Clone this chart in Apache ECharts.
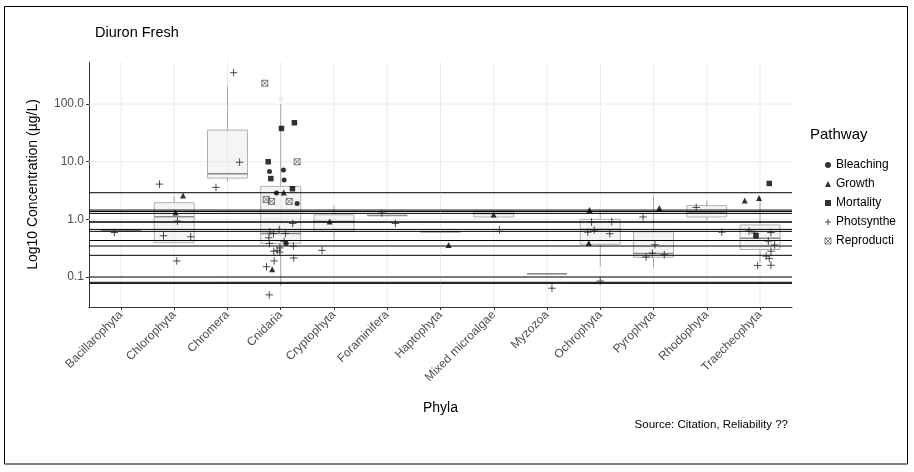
<!DOCTYPE html>
<html><head><meta charset="utf-8">
<script src="https://cdn.jsdelivr.net/npm/echarts@6/dist/echarts.min.js"></script>
<style>html,body{margin:0;padding:0;background:#fff}#c{width:914px;height:472px}</style>
</head><body><div id="c"></div>
<script>
// ---------- data ----------
const categories = ['Bacillarophyta','Chlorophyta','Chromera','Cnidaria','Cryptophyta','Foraminifera','Haptophyta','Mixed microalgae','Myzozoa','Ochrophyta','Pyrophyta','Rhodophyta','Traecheophyta'];
const pathways = ['Bleaching','Growth','Mortality','Photsynthesis','Reproduction'];
const yTickValues = [0.1, 1, 10, 100];
const yTickLabels = ['0.1', '1.0', '10.0', '100.0'];
const yRange = [0.0302, 537];

// horizontal reference lines (µg/L)
const hlineValues = [2.9, 1.45, 1.37, 1.27, 0.9, 0.9, 0.67, 0.62, 0.43, 0.43, 0.345, 0.238, 0.1, 0.081, 0.0775];

// boxplot statistics per category (µg/L)
const boxMin = [0.645, 0.395, 4.56, 0.07, 0.45, 1.17, 0.61, 1.1, 0.114, 0.155, 0.146, 0.97, 0.18];
const boxQ1  = [0.645, 0.395, 5.2, 0.384, 0.62, 1.17, 0.61, 1.1, 0.114, 0.37, 0.22, 1.1, 0.30];
const boxMed = [0.645, 1.11, 6.2, 0.57, 0.92, 1.17, 0.61, 1.27, 0.114, 0.67, 0.257, 1.34, 0.47];
const boxQ3  = [0.645, 1.95, 35.3, 3.73, 1.2, 1.17, 0.61, 1.39, 0.114, 1.0, 0.61, 1.73, 0.80];
const boxMax = [0.645, 2.53, 204, 100, 1.7, 1.17, 0.61, 1.39, 0.114, 1.45, 2.6, 2.13, 2.38];
const outlierX = [3];
const outlierY = [123];

// jittered observations: x = category position (jittered), y = concentration
const bleachingX = [2.789, 3.051, 3.064, 2.920, 3.308, 3.102];
const bleachingY = [6.8, 7.2, 4.8, 2.86, 1.89, 0.38];
const growthX = [1.166, 1.024, 3.057, 2.840, 3.918, 6.153, 6.996, 8.798, 8.785, 10.109, 11.713, 11.981];
const growthY = [2.6, 1.32, 2.94, 0.136, 0.92, 0.36, 1.22, 1.45, 0.39, 1.57, 2.13, 2.34];
const mortalityX = [3.014, 3.257, 2.765, 2.814, 3.220, 12.173, 11.924];
const mortalityY = [37.8, 47.4, 10, 5.1, 3.4, 4.2, 0.52];
const photoX = [-0.125,
  0.724, 1.061, 0.799, 1.310, 1.048,
  2.115, 2.228, 1.784,
  3.225, 2.971, 2.795, 2.864, 3.089, 2.776, 3.064, 2.789, 3.238, 2.982, 2.933, 2.870, 2.982, 3.244, 2.877, 2.733, 2.784,
  3.776, 4.899, 5.154, 7.108, 8.093,
  8.836, 9.216, 8.886, 8.766, 9.178, 8.999,
  9.803, 10.028, 9.978, 10.202, 9.860,
  10.801, 11.282,
  11.793, 11.893, 12.205, 12.155, 12.274, 12.205, 12.117, 12.173, 11.956, 12.205];
const photoY = [0.59,
  4.09, 0.935, 0.52, 0.50, 0.19,
  350, 9.8, 3.59,
  0.85, 0.67, 0.61, 0.57, 0.57, 0.48, 0.416, 0.38, 0.345, 0.32, 0.29, 0.28, 0.27, 0.214, 0.19, 0.151, 0.049,
  0.29, 1.29, 0.85, 0.66, 0.064,
  0.9, 0.91, 0.65, 0.6, 0.565, 0.085,
  1.1, 0.364, 0.26, 0.244, 0.222,
  1.61, 0.6,
  0.63, 0.58, 0.59, 0.42, 0.36, 0.28, 0.23, 0.21, 0.158, 0.16];
const reproX = [2.701, 3.308, 2.727, 2.827, 3.158];
const reproY = [230, 10, 2.22, 2.05, 2.05];

// ---------- build ----------
const L = v => Math.log10(v);
const yMin = L(yRange[0]), yMax = L(yRange[1]);
const xMin = -0.6, xMax = categories.length - 1 + 0.6;
const FONT = 'Liberation Sans, Arial, sans-serif';
const catIdx = categories.map((_, i) => i);
const pts = (xs, ys) => xs.map((x, i) => [x, L(ys[i])]);

const plusPath = 'path://M5,0V10M0,5H10';
const boxXPath = 'path://M0,0H10V10H0ZM0,0L10,10M10,0L0,10';

const symbolDefs = {
  'Bleaching':     {symbol: 'circle', size: 5, style: {color: '#000'}},
  'Growth':        {symbol: 'triangle', size: 6, style: {color: '#000'}},
  'Mortality':     {symbol: 'rect', size: 5.5, style: {color: '#000'}},
  'Photsynthesis': {symbol: plusPath, size: 7.5, style: {color: 'none', borderColor: '#222', borderWidth: 1}},
  'Reproduction':  {symbol: boxXPath, size: 6, style: {color: 'none', borderColor: '#333', borderWidth: 0.8}}
};
const seriesPts = {
  'Bleaching': pts(bleachingX, bleachingY),
  'Growth': pts(growthX, growthY),
  'Mortality': pts(mortalityX, mortalityY),
  'Photsynthesis': pts(photoX, photoY),
  'Reproduction': pts(reproX, reproY)
};

const chart = echarts.init(document.getElementById('c'), null, {renderer: 'canvas'});

const series = [
  // vertical grid lines
  {type: 'custom', z: 1, silent: true,
   data: catIdx.map(i => [i, 0]),
   encode: {x: 0, y: 1},
   renderItem: (p, api) => {
     const a = api.coord([api.value(0), yMin]), b = api.coord([api.value(0), yMax]);
     return {type: 'line', shape: {x1: a[0], y1: a[1], x2: b[0], y2: b[1]}, style: {stroke: '#ebebeb', lineWidth: 1}};
   }},
  // horizontal grid lines
  {type: 'custom', z: 1, silent: true,
   data: yTickValues.map(v => [0, L(v)]),
   encode: {x: 0, y: 1},
   renderItem: (p, api) => {
     const a = api.coord([xMin, api.value(1)]), b = api.coord([xMax, api.value(1)]);
     return {type: 'line', shape: {x1: a[0], y1: a[1], x2: b[0], y2: b[1]}, style: {stroke: '#ebebeb', lineWidth: 1}};
   }},
  // boxplots
  {type: 'custom', z: 2, silent: true,
   data: catIdx.map(i => [i, L(boxMin[i]), L(boxQ1[i]), L(boxMed[i]), L(boxQ3[i]), L(boxMax[i])]),
   encode: {x: 0, y: [1, 2, 3, 4, 5]},
   renderItem: (p, api) => {
     const x = api.value(0);
     const w = api.size([0.75, 0])[0];
     const pMin = api.coord([x, api.value(1)]);
     const pQ1 = api.coord([x, api.value(2)]);
     const pMed = api.coord([x, api.value(3)]);
     const pQ3 = api.coord([x, api.value(4)]);
     const pMax = api.coord([x, api.value(5)]);
     const cx = pMed[0];
     const wStyle = {stroke: '#a8a8a8', lineWidth: 1};
     return {type: 'group', children: [
       {type: 'line', shape: {x1: cx, y1: pQ3[1], x2: cx, y2: pMax[1]}, style: wStyle},
       {type: 'line', shape: {x1: cx, y1: pQ1[1], x2: cx, y2: pMin[1]}, style: wStyle},
       {type: 'rect', shape: {x: cx - w / 2, y: pQ3[1], width: w, height: pQ1[1] - pQ3[1]},
        style: {fill: 'rgba(225,225,225,0.35)', stroke: '#b0b0b0', lineWidth: 1}},
       {type: 'line', shape: {x1: cx - w / 2, y1: pMed[1], x2: cx + w / 2, y2: pMed[1]},
        style: {stroke: '#8a8a8a', lineWidth: 1.5}}
     ]};
   }},
  // outlier (faint)
  {type: 'scatter', z: 3, silent: true, name: 'outlier',
   data: outlierX.map((x, i) => [x, L(outlierY[i])]),
   symbol: 'circle', symbolSize: 5, itemStyle: {color: '#e8e8e8'}},
  // horizontal reference lines
  {type: 'custom', z: 4, silent: true,
   data: hlineValues.map(v => [0, L(v)]),
   encode: {x: 0, y: 1},
   renderItem: (p, api) => {
     const a = api.coord([xMin, api.value(1)]), b = api.coord([xMax, api.value(1)]);
     return {type: 'line', shape: {x1: a[0], y1: a[1], x2: b[0], y2: b[1]}, style: {stroke: '#000', lineWidth: 1}};
   }}
];
pathways.forEach(name => {
  const d = symbolDefs[name];
  series.push({type: 'scatter', name, z: 5, data: seriesPts[name],
    symbol: d.symbol, symbolSize: d.size, itemStyle: d.style});
});

chart.setOption({
  animation: false,
  backgroundColor: '#fff',
  grid: {left: 89, right: 122, top: 62, bottom: 165},
  xAxis: {
    type: 'value', min: xMin, max: xMax,
    axisLine: {show: true, onZero: false, lineStyle: {color: '#333', width: 1}},
    axisTick: {show: true, customValues: catIdx, length: 3, lineStyle: {color: '#333'}},
    axisLabel: {customValues: catIdx, formatter: v => categories[Math.round(v)], rotate: 45,
      margin: 6, fontFamily: FONT, fontSize: 12, color: '#4d4d4d'},
    splitLine: {show: false}
  },
  yAxis: {
    type: 'value', min: yMin, max: yMax,
    axisLine: {show: true, onZero: false, lineStyle: {color: '#333', width: 1}},
    axisTick: {show: true, customValues: yTickValues.map(L), length: 3, lineStyle: {color: '#333'}},
    axisLabel: {customValues: yTickValues.map(L),
      formatter: v => { const k = yTickValues.findIndex(t => Math.abs(L(t) - v) < 1e-6); return k >= 0 ? yTickLabels[k] : ''; },
      margin: 5, fontFamily: FONT, fontSize: 12, color: '#4d4d4d'},
    splitLine: {show: false}
  },
  legend: {
    orient: 'vertical', left: 817.5, top: 153, itemWidth: 6, itemHeight: 6, itemGap: 5,
    textStyle: {fontFamily: FONT, fontSize: 12, color: '#000', lineHeight: 14,
      width: 62.5, overflow: 'truncate', ellipsis: ''},
    data: pathways.map(name => ({name, icon: symbolDefs[name].symbol, itemStyle: symbolDefs[name].style}))
  },
  graphic: [
    {type: 'rect', z: 100, silent: true, shape: {x: 4.5, y: 6.5, width: 903, height: 457.5},
     style: {fill: 'none', stroke: '#000', lineWidth: 1}},
    {type: 'text', x: 95, y: 33, silent: true,
     style: {text: 'Diuron Fresh', font: '14.5px ' + FONT, fill: '#000', textVerticalAlign: 'middle'}},
    {type: 'text', x: 810, y: 135, silent: true,
     style: {text: 'Pathway', font: '15px ' + FONT, fill: '#000', textVerticalAlign: 'middle'}},
    {type: 'text', x: 440.5, y: 408, silent: true,
     style: {text: 'Phyla', font: '14px ' + FONT, fill: '#000', textAlign: 'center', textVerticalAlign: 'middle'}},
    {type: 'text', x: 33, y: 184.5, rotation: Math.PI / 2, silent: true,
     style: {text: 'Log10 Concentration (µg/L)', font: '14px ' + FONT, fill: '#000', textAlign: 'center', textVerticalAlign: 'middle'}},
    {type: 'text', x: 788, y: 425, silent: true,
     style: {text: 'Source: Citation, Reliability ??', font: '11.5px ' + FONT, fill: '#000', textAlign: 'right', textVerticalAlign: 'middle'}}
  ],
  series
});
</script></body></html>
